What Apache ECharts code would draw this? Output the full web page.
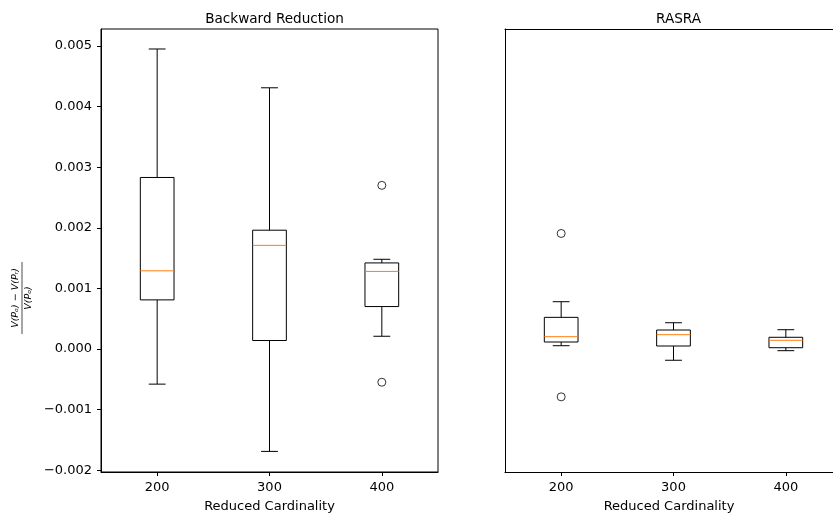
<!DOCTYPE html>
<html>
<head>
<meta charset="utf-8">
<script src="https://cdn.jsdelivr.net/npm/echarts@6/dist/echarts.min.js"></script>
<style>
  html, body { margin: 0; padding: 0; background: #fff; }
  #chart { width: 833px; height: 516px; }
</style>
</head>
<body>
<div id="chart"></div>
<script>
// box stats per reduced cardinality
const positions = [200, 300, 400];
const xTicks = [200, 300, 400];

const brLow = [-0.00058, -0.00169, 0.00021];
const brQ1 = [0.00081, 0.00014, 0.00070];
const brMed = [0.00129, 0.00171, 0.00128];
const brQ3 = [0.00283, 0.00196, 0.00142];
const brHigh = [0.00495, 0.00431, 0.00148];
const brOutliers = [[400, 0.00270], [400, -0.000549]];

const raLow = [0.000054, -0.000186, -0.000028];
const raQ1 = [0.000115, 0.000049, 0.000021];
const raMed = [0.000203, 0.000236, 0.000143];
const raQ3 = [0.000522, 0.000313, 0.000193];
const raHigh = [0.00078, 0.000433, 0.000318];
const raOutliers = [[200, 0.001906], [200, -0.00079]];

const yTicks = [-0.002, -0.001, 0, 0.001, 0.002, 0.003, 0.004, 0.005];

const FONT = 'DejaVu Sans';
const BOX_W = 30; // box width in x units
const chart = echarts.init(document.getElementById('chart'));

function boxRows(low, q1, med, q3, high) {
  return positions.map((p, i) => [p, low[i], q1[i], med[i], q3[i], high[i]]);
}

// matplotlib style box: black box + whiskers, half-width caps, orange median
function renderBox(params, api) {
  const xv = api.value(0);
  const half = api.size([BOX_W / 2, 0])[0];
  const capHalf = half / 2;
  const pLow = api.coord([xv, api.value(1)]);
  const pQ1 = api.coord([xv, api.value(2)]);
  const pMed = api.coord([xv, api.value(3)]);
  const pQ3 = api.coord([xv, api.value(4)]);
  const pHigh = api.coord([xv, api.value(5)]);
  const x = pMed[0];
  const black = { stroke: '#000', lineWidth: 1, fill: null };
  return {
    type: 'group',
    children: [
      { type: 'rect', shape: { x: x - half, y: pQ3[1], width: half * 2, height: pQ1[1] - pQ3[1] }, style: black },
      { type: 'line', shape: { x1: x, y1: pQ1[1], x2: x, y2: pLow[1] }, style: black },
      { type: 'line', shape: { x1: x, y1: pQ3[1], x2: x, y2: pHigh[1] }, style: black },
      { type: 'line', shape: { x1: x - capHalf, y1: pLow[1], x2: x + capHalf, y2: pLow[1] }, style: black },
      { type: 'line', shape: { x1: x - capHalf, y1: pHigh[1], x2: x + capHalf, y2: pHigh[1] }, style: black },
      { type: 'line', shape: { x1: x - half, y1: pMed[1], x2: x + half, y2: pMed[1] }, style: { stroke: '#ff7f0e', lineWidth: 1 } }
    ]
  };
}

function fmt(v) {
  const s = Math.abs(v).toFixed(3);
  return v < -1e-9 ? '\u2212' + s : s;
}

const lineStyle = { color: '#000', width: 1 };

function bottomAxis(gridIndex, max) {
  return {
    gridIndex, type: 'value', min: 150, max,
    axisLine: { show: true, onZero: false, lineStyle },
    axisTick: { show: true, length: 4, customValues: xTicks, lineStyle: { color: '#000' } },
    axisLabel: { color: '#000', fontFamily: FONT, fontSize: 13, margin: 9, customValues: xTicks },
    splitLine: { show: false },
    name: 'Reduced Cardinality',
    nameLocation: 'middle',
    nameGap: 28,
    nameTextStyle: { color: '#000', fontFamily: FONT, fontSize: 13 }
  };
}

// right panel runs past the page edge: its x range is cut where the page ends
const rightMax = 150 + 328 * 300 / 337;

const yMin = -0.00203;
const yMax = 0.00528;

chart.setOption({
  animation: false,
  title: [
    { text: 'Backward Reduction', left: 269.5, top: 7, textAlign: 'center',
      textStyle: { fontFamily: FONT, fontSize: 13.6, fontWeight: 'normal', color: '#000' } },
    { text: 'RASRA', left: 673.5, top: 7, textAlign: 'center',
      textStyle: { fontFamily: FONT, fontSize: 13.6, fontWeight: 'normal', color: '#000' } }
  ],
  grid: [
    { left: 101, width: 337, top: 29, bottom: 44, outerBoundsMode: 'none',
      show: true, borderColor: '#000', borderWidth: 1, backgroundColor: 'transparent' },
    { left: 505, right: 0, top: 29, bottom: 44, outerBoundsMode: 'none', show: false }
  ],
  xAxis: [
    bottomAxis(0, 450),
    bottomAxis(1, rightMax),
    {
      gridIndex: 1, type: 'value', position: 'top', min: 150, max: rightMax,
      axisLine: { show: true, onZero: false, lineStyle },
      axisTick: { show: false }, axisLabel: { show: false }, splitLine: { show: false }
    }
  ],
  yAxis: [
    {
      gridIndex: 0, type: 'value', min: yMin, max: yMax,
      axisLine: { show: true, onZero: false, lineStyle },
      axisTick: { show: true, length: 4, customValues: yTicks, lineStyle: { color: '#000' } },
      axisLabel: { color: '#000', fontFamily: FONT, fontSize: 13, margin: 9, customValues: yTicks, formatter: fmt },
      splitLine: { show: false }
    },
    {
      gridIndex: 1, type: 'value', min: yMin, max: yMax,
      axisLine: { show: true, onZero: false, lineStyle },
      axisTick: { show: false },
      axisLabel: { show: false },
      splitLine: { show: false }
    }
  ],
  graphic: [
    {
      type: 'group',
      x: 22, y: 298, rotation: Math.PI / 2,
      children: [
        { type: 'text', x: 0, y: -1.5, style: { text: 'V(P\u2092) \u2212 V(P\u1D63)', fontFamily: FONT, fontStyle: 'italic', fontSize: 9.5, fill: '#000', align: 'center', verticalAlign: 'bottom' } },
        { type: 'line', shape: { x1: -36, y1: 0, x2: 36, y2: 0 }, style: { stroke: '#000', lineWidth: 0.7 } },
        { type: 'text', x: 0, y: 1.5, style: { text: 'V(P\u2092)', fontFamily: FONT, fontStyle: 'italic', fontSize: 9.5, fill: '#000', align: 'center', verticalAlign: 'top' } }
      ]
    }
  ],
  series: [
    { type: 'custom', xAxisIndex: 0, yAxisIndex: 0, renderItem: renderBox, data: boxRows(brLow, brQ1, brMed, brQ3, brHigh), clip: false },
    { type: 'custom', xAxisIndex: 1, yAxisIndex: 1, renderItem: renderBox, data: boxRows(raLow, raQ1, raMed, raQ3, raHigh), clip: false },
    { type: 'scatter', xAxisIndex: 0, yAxisIndex: 0, data: brOutliers, symbol: 'circle', symbolSize: 8,
      itemStyle: { color: 'transparent', borderColor: '#000', borderWidth: 1 } },
    { type: 'scatter', xAxisIndex: 1, yAxisIndex: 1, data: raOutliers, symbol: 'circle', symbolSize: 8,
      itemStyle: { color: 'transparent', borderColor: '#000', borderWidth: 1 } }
  ]
});
</script>
</body>
</html>
